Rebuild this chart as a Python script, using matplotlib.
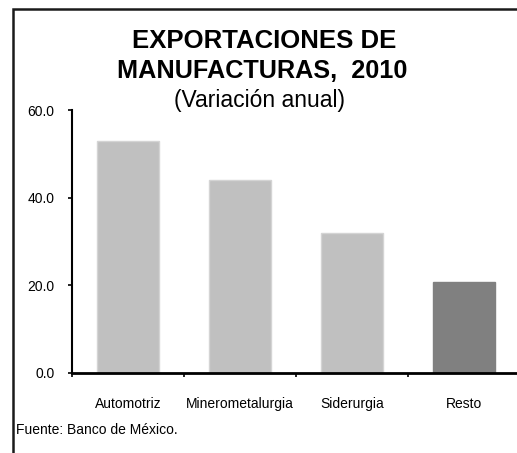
import matplotlib
matplotlib.use("Agg")
import matplotlib.pyplot as plt
from matplotlib.patches import Rectangle
from matplotlib.ticker import FixedLocator

categories = ["Automotriz", "Minerometalurgia", "Siderurgia", "Resto"]
values = [53.0, 44.0, 32.0, 20.8]
bar_colors = ["#C0C0C0", "#C0C0C0", "#C0C0C0", "#808080"]
edge_colors = ["#D4D4D4", "#D4D4D4", "#D4D4D4", "#808080"]
yticks = [0, 20, 40, 60]
ytick_labels = ["0.0", "20.0", "40.0", "60.0"]

plt.rcParams['font.family'] = ['Liberation Sans', 'DejaVu Sans']

W, H = 517, 453
fig = plt.figure(figsize=(W / 100, H / 100), dpi=100)

# outer frame
fig.patches.append(Rectangle((12.5 / W, -0.2), 2.0, 1.2 - 8.5 / H,
                             transform=fig.transFigure, fill=False,
                             edgecolor="#1a1a1a", linewidth=1.8))

ax = fig.add_axes([72 / W, 1 - 373 / H, 448 / W, 263 / H])
x = range(len(categories))
ax.bar(x, values, width=0.55, color=bar_colors, edgecolor=edge_colors, linewidth=1.0)

ax.set_xlim(-0.5, 3.5)
ax.set_ylim(0, 60)
ax.set_yticks(yticks)
ax.set_yticklabels(ytick_labels, fontsize=10)
ax.set_xticks(list(x))
ax.set_xticklabels(categories, fontsize=10)
ax.xaxis.set_minor_locator(FixedLocator([-0.5, 0.5, 1.5, 2.5, 3.5]))
ax.tick_params(axis='x', which='major', length=0, pad=17)
ax.tick_params(axis='x', which='minor', length=3, width=1.2, direction='out')
ax.tick_params(axis='y', length=3, width=1.2, direction='out', pad=9.5)

for s in ['top', 'right']:
    ax.spines[s].set_visible(False)
ax.spines['left'].set_linewidth(1.5)
ax.spines['bottom'].set_linewidth(2.0)

fig.text(264 / W, 1 - 40.5 / H, "EXPORTACIONES DE", ha='center', va='center',
         fontsize=18.5, fontweight='bold')
fig.text(262 / W, 1 - 70.5 / H, "MANUFACTURAS,  2010", ha='center', va='center',
         fontsize=18.2, fontweight='bold')
fig.text(260 / W, 1 - 100 / H, "(Variación anual)", ha='center', va='center',
         fontsize=16.5)
fig.text(16 / W, 1 - 430 / H, "Fuente: Banco de México.", ha='left', va='center',
         fontsize=10)

fig.savefig("out.png", dpi=100)
